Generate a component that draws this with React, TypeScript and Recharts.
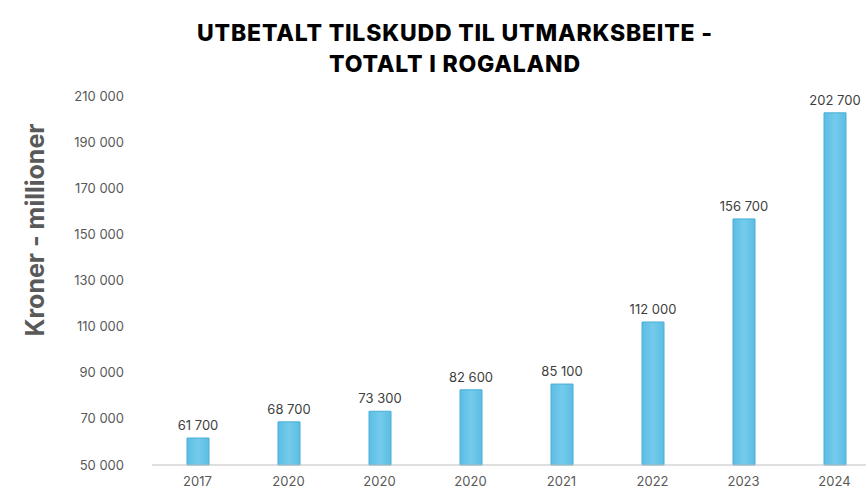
import React from "react";
import { BarChart, Bar, XAxis, YAxis, LabelList } from "recharts";

const years = ["2017", "2020", "2020", "2020", "2021", "2022", "2023", "2024"];
const amounts = [61700, 68700, 73300, 82600, 85100, 112000, 156700, 202700];
const yTicks = [50000, 70000, 90000, 110000, 130000, 150000, 170000, 190000, 210000];

const data = years.map((y, i) => ({ id: i, year: y, value: amounts[i] }));

const fmt = (v: number) => String(v).replace(/\B(?=(\d{3})+(?!\d))/g, "\u00a0");

const font = "Inter, 'Open Sans', sans-serif";

const BarLabel = (props: any) => {
  const { x, y, width, value } = props;
  return (
    <text x={x + width / 2} y={y - 8} textAnchor="middle" fontSize={13} fill="#404040" fontFamily={font}>
      {fmt(value)}
    </text>
  );
};

export default function App() {
  return (
    <div style={{ position: "absolute", left: 0, top: 0, width: 866, height: 497, overflow: "hidden", background: "#fff", fontFamily: font }}>
      <div style={{ position: "absolute", left: 0, top: 18, width: 910, textAlign: "center", fontWeight: 800, fontSize: 23, lineHeight: "31px", color: "#000", letterSpacing: 0.8 }}>
        UTBETALT TILSKUDD TIL UTMARKSBEITE -<br />TOTALT I ROGALAND
      </div>
      <div style={{ position: "absolute", left: 35, top: 230, transform: "translate(-50%, -50%) rotate(-90deg)", whiteSpace: "nowrap", fontWeight: 700, fontSize: 25, color: "#595959" }}>
        Kroner - millioner
      </div>
      <BarChart width={880} height={497} data={data} margin={{ top: 96, right: 0, bottom: 2, left: 0 }} style={{ position: "absolute", left: 0, top: 0 }}>
        <defs>
          <linearGradient id="barGrad" x1="0" y1="0" x2="1" y2="0">
            <stop offset="0%" stopColor="#5BBDE3" />
            <stop offset="50%" stopColor="#74CBEC" />
            <stop offset="100%" stopColor="#5BBDE3" />
          </linearGradient>
        </defs>
        <YAxis
          width={152}
          domain={[50000, 210000]}
          ticks={yTicks}
          axisLine={false}
          tickLine={false}
          tickMargin={22}
          tickFormatter={fmt}
          tick={{ fontSize: 13, fill: "#595959", fontFamily: font }}
        />
        <XAxis
          dataKey="id"
          height={30}
          tickFormatter={(i: number) => years[i]}
          tickLine={false}
          axisLine={{ stroke: "#BFBFBF" }}
          tick={{ fontSize: 13, fill: "#595959", fontFamily: font }}
          tickMargin={6}
        />
        <Bar dataKey="value" fill="url(#barGrad)" stroke="#4AAED6" strokeWidth={1} barSize={22} isAnimationActive={false}>
          <LabelList dataKey="value" content={BarLabel} />
        </Bar>
      </BarChart>
    </div>
  );
}
